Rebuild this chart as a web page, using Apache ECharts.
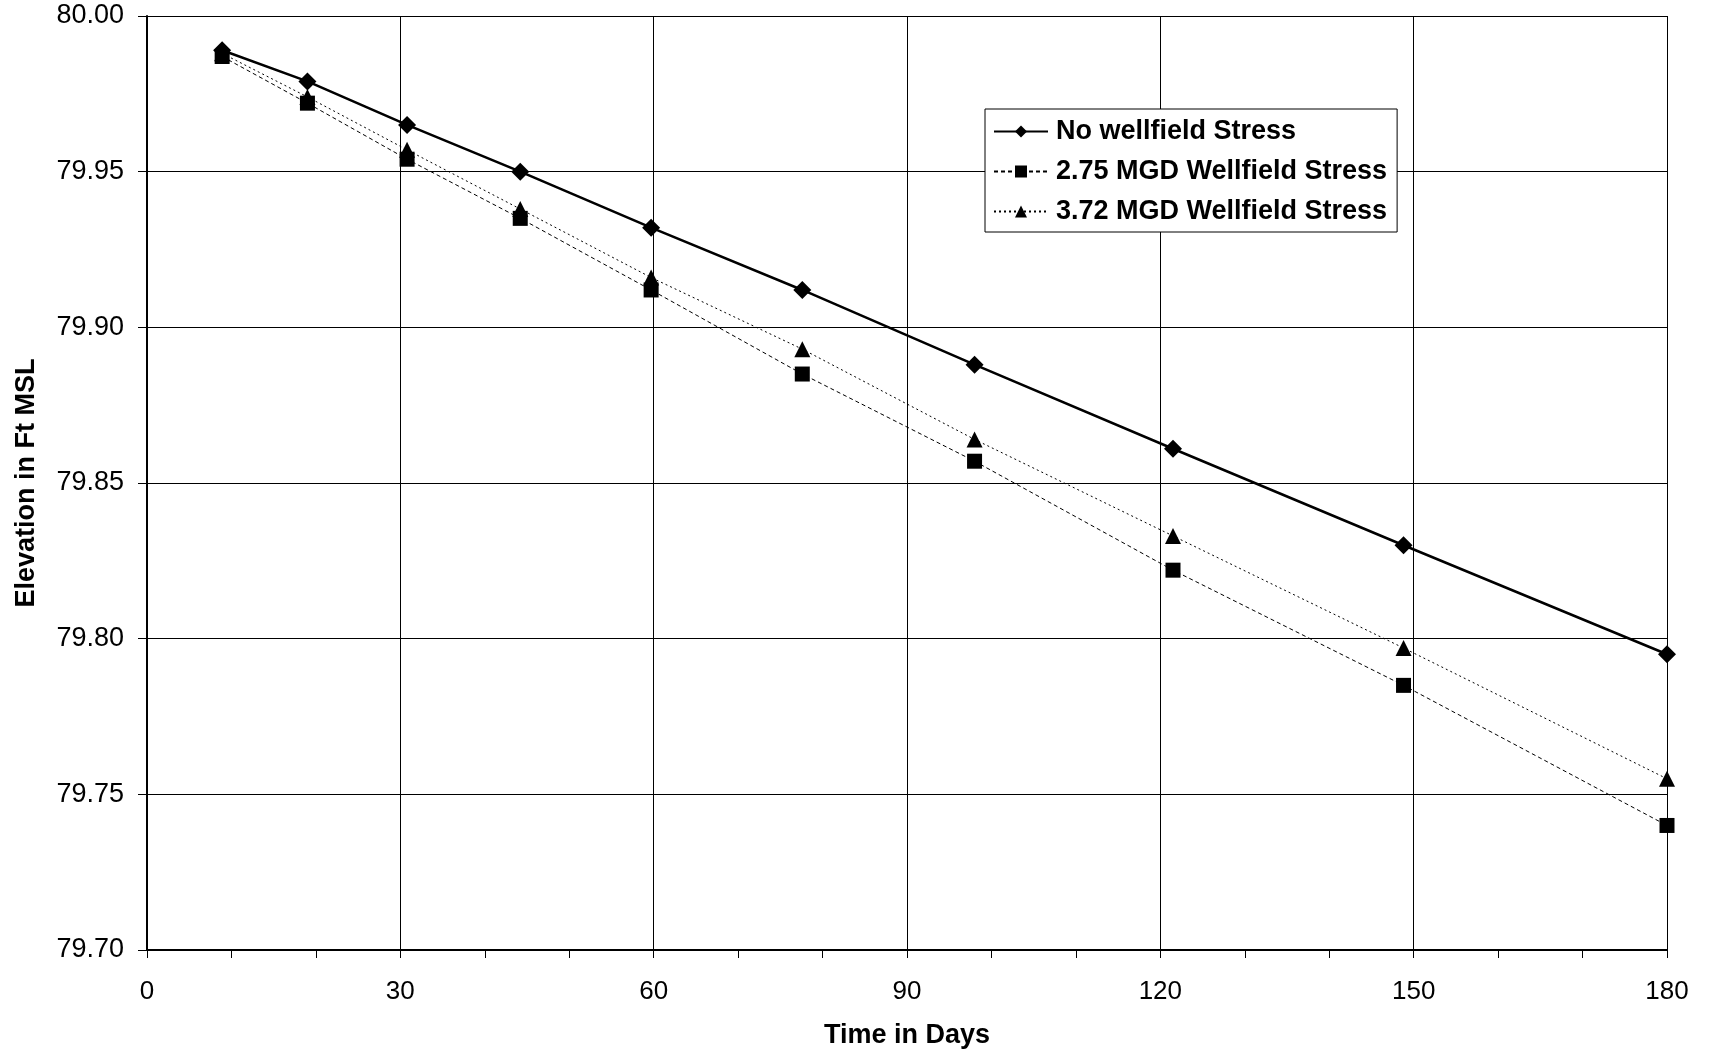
<!DOCTYPE html>
<html><head><meta charset="utf-8">
<script src="https://cdn.jsdelivr.net/npm/echarts@6/dist/echarts.min.js"></script>
<style>html,body{margin:0;padding:0;background:#fff}#c{width:1711px;height:1054px}</style>
</head><body><div id="c"></div>
<script>
const days = [8.9, 19.0, 30.8, 44.2, 59.7, 77.6, 98.0, 121.5, 148.8, 180];
const noStress = [79.989, 79.979, 79.965, 79.950, 79.932, 79.912, 79.888, 79.861, 79.830, 79.795];
const stress275 = [79.987, 79.972, 79.954, 79.935, 79.912, 79.885, 79.857, 79.822, 79.785, 79.740];
const stress372 = [79.988, 79.974, 79.957, 79.938, 79.916, 79.893, 79.864, 79.833, 79.797, 79.755];
const seriesNames = ['No wellfield Stress', '2.75 MGD Wellfield Stress', '3.72 MGD Wellfield Stress'];
const xTicks = [0, 30, 60, 90, 120, 150, 180];

const pair = arr => days.map((d, i) => [d, arr[i]]);
const font = '"Liberation Sans", Arial, sans-serif';
const chart = echarts.init(document.getElementById('c'), null, {renderer: 'canvas'});
chart.setOption({
  animation: false,
  backgroundColor: '#fff',
  grid: {left: 147, right: 44, top: 16, bottom: 104, show: false, containLabel: false, outerBoundsMode: 'none'},
  legend: {
    orient: 'vertical', left: 985, top: 109,
    backgroundColor: '#fff', borderColor: '#000', borderWidth: 1,
    padding: [8, 10, 6, 8], itemGap: 11, itemWidth: 54, itemHeight: 15,
    textStyle: {fontFamily: font, fontWeight: 'bold', fontSize: 27, color: '#000', lineHeight: 29, padding: [0, 0, 0, 3]},
    data: seriesNames
  },
  xAxis: {
    type: 'value', min: 0, max: 180, interval: 30,
    name: 'Time in Days', nameLocation: 'middle', nameGap: 72,
    nameTextStyle: {fontFamily: font, fontWeight: 'bold', fontSize: 27, color: '#000'},
    axisLine: {show: true, onZero: false, lineStyle: {color: '#000', width: 2}},
    axisTick: {show: true, length: 8, lineStyle: {color: '#000', width: 1}},
    minorTick: {show: true, splitNumber: 3, length: 8, lineStyle: {color: '#000', width: 1}},
    axisLabel: {fontFamily: font, fontSize: 26, color: '#000', margin: 29,
      formatter: v => xTicks.includes(v) ? String(v) : ''},
    splitLine: {show: true, lineStyle: {color: '#000', width: 1}}
  },
  yAxis: {
    type: 'value', min: 79.70, max: 80.00, interval: 0.05,
    name: 'Elevation in Ft MSL', nameLocation: 'middle', nameGap: 107, nameRotate: 90,
    nameTextStyle: {fontFamily: font, fontWeight: 'bold', fontSize: 27, color: '#000'},
    axisLine: {show: true, onZero: false, lineStyle: {color: '#000', width: 2}},
    axisTick: {show: true, length: 9, lineStyle: {color: '#000', width: 1}},
    axisLabel: {fontFamily: font, fontSize: 27, color: '#000', margin: 23,
      formatter: v => v.toFixed(2)},
    splitLine: {show: true, lineStyle: {color: '#000', width: 1}}
  },
  series: [
    {name: seriesNames[0], type: 'line', data: pair(noStress), symbol: 'diamond', symbolSize: 18,
     lineStyle: {color: '#000', width: 2.5, type: 'solid'}, itemStyle: {color: '#000'}, z: 3},
    {name: seriesNames[1], type: 'line', data: pair(stress275), symbol: 'rect', symbolSize: 15,
     lineStyle: {color: '#000', width: 1, type: [4, 3]}, itemStyle: {color: '#000'}, z: 2},
    {name: seriesNames[2], type: 'line', data: pair(stress372), symbol: 'triangle', symbolSize: 16,
     lineStyle: {color: '#000', width: 1, type: [2, 3]}, itemStyle: {color: '#000'}, z: 2}
  ]
});
</script></body></html>
